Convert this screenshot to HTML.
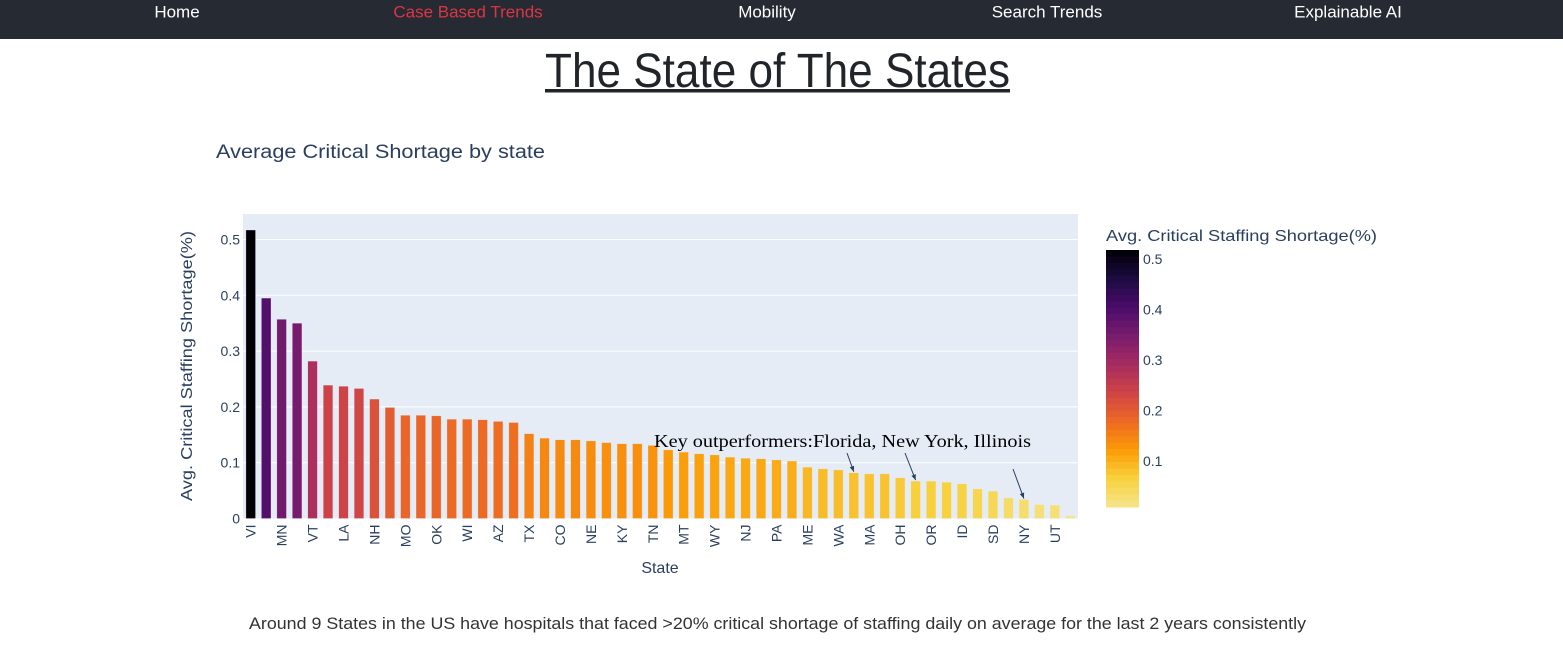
<!DOCTYPE html>
<html><head><meta charset="utf-8">
<style>
html,body{margin:0;padding:0;background:#fff;width:1563px;height:662px;overflow:hidden;font-family:"Liberation Sans",sans-serif}
svg text{font-family:"Liberation Sans",sans-serif}
</style></head>
<body>
<svg id="page" width="1563" height="662" xmlns="http://www.w3.org/2000/svg">
<rect x="0" y="0" width="1563" height="39" fill="#262a33"/>
<text x="177" y="13" fill="#fff" font-size="17" text-anchor="middle" dominant-baseline="middle">Home</text>
<text x="468" y="13" fill="#dc3545" font-size="17" text-anchor="middle" dominant-baseline="middle">Case Based Trends</text>
<text x="767" y="13" fill="#fff" font-size="17" text-anchor="middle" dominant-baseline="middle">Mobility</text>
<text x="1047" y="13" fill="#fff" font-size="17" text-anchor="middle" dominant-baseline="middle">Search Trends</text>
<text x="1348" y="13" fill="#fff" font-size="17" text-anchor="middle" dominant-baseline="middle">Explainable AI</text>
<text x="545" y="87" fill="#212529" font-size="48" textLength="465" lengthAdjust="spacingAndGlyphs">The State of The States</text>
<rect x="545" y="89" width="465" height="3.5" fill="#212529"/>
<text x="216" y="158" fill="#2a3f5f" font-size="19" textLength="329" lengthAdjust="spacingAndGlyphs">Average Critical Shortage by state</text>
<rect x="243" y="214" width="835" height="304.5" fill="#e5ecf6"/>
<g id="grid"></g>
<g id="bars"></g>
<g id="xticks"></g>
<g id="yticks"></g>
<text transform="translate(192,366) rotate(-90)" fill="#2a3f5f" font-size="16" text-anchor="middle" textLength="270" lengthAdjust="spacingAndGlyphs">Avg. Critical Staffing Shortage(%)</text>
<text x="660" y="573" fill="#2a3f5f" font-size="16" text-anchor="middle">State</text>
<text x="654" y="447" fill="#000" font-size="18" style="font-family:'Liberation Serif',serif" textLength="377" lengthAdjust="spacingAndGlyphs">Key outperformers:Florida, New York, Illinois</text>
<g id="arrows"></g>
<text x="1106" y="241" fill="#2a3f5f" font-size="16" textLength="271" lengthAdjust="spacingAndGlyphs">Avg. Critical Staffing Shortage(%)</text>
<g id="cbar"></g>
<text x="249" y="629" fill="#333" font-size="17" textLength="1057" lengthAdjust="spacingAndGlyphs">Around 9 States in the US have hospitals that faced &gt;20% critical shortage of staffing daily on average for the last 2 years consistently</text>
</svg>
<script>
const states = ["VI","PR","MN","NM","VT","DE","LA","RI","NH","KS","MO","MI","OK","GA","WI","AR","AZ","NC","TX","SC","CO","AL","NE","MS","KY","CA","TN","WV","MT","IN","WY","IA","NJ","ND","PA","CT","ME","DC","WA","FL","MA","NV","OH","IL","OR","VA","ID","MD","SD","AK","NY","HI","UT","GU"];
const values = [0.517,0.395,0.357,0.350,0.282,0.239,0.237,0.233,0.214,0.199,0.185,0.185,0.184,0.178,0.178,0.177,0.174,0.172,0.152,0.144,0.141,0.141,0.139,0.136,0.134,0.134,0.131,0.123,0.119,0.116,0.114,0.110,0.108,0.107,0.105,0.103,0.092,0.089,0.087,0.082,0.080,0.080,0.073,0.067,0.067,0.065,0.062,0.053,0.049,0.037,0.034,0.025,0.024,0.005];
const yTicks = [0,0.1,0.2,0.3,0.4,0.5];
const yTickLabels = ["0","0.1","0.2","0.3","0.4","0.5"];
const cbTicks = [0.1,0.2,0.3,0.4,0.5];
const arrowTargets = ["FL","IL","NY"];
const NS="http://www.w3.org/2000/svg";
const X0=243,X1=1078,Y0=518.5,YS=558;
const step=(X1-X0)/states.length;
const xc=i=>X0+step*(i+0.5);
const y=v=>Y0-v*YS;
const palette=['#000004','#1b0c41','#4a0c6b','#781c6d','#a52c60','#cf4446','#ed6925','#fb9b06','#f7d13d','#f6e48c'];
const vmin=0.009,vmax=0.518;
function hex(h){return [1,3,5].map(k=>parseInt(h.substr(k,2),16));}
function color(v){let t=(vmax-v)/(vmax-vmin);t=Math.max(0,Math.min(1,t));const p=t*(palette.length-1);const i=Math.min(Math.floor(p),palette.length-2);const f=p-i;const a=hex(palette[i]),b=hex(palette[i+1]);return 'rgb('+a.map((c,k)=>Math.round(c+(b[k]-c)*f)).join(',')+')';}
function mk(tag,attrs,parent){const e=document.createElementNS(NS,tag);for(const k in attrs)e.setAttribute(k,attrs[k]);document.getElementById(parent).appendChild(e);return e;}
yTicks.forEach((t,i)=>{
  if(t>0){const g=mk('line',{x1:X0,x2:X1,y1:y(t),y2:y(t),stroke:'#fff','stroke-width':1},'grid');
  
  }
  const l=mk('text',{x:X0-3,y:y(t)+5,'font-size':14,fill:'#2a3f5f','text-anchor':'end'},'yticks');
  l.textContent=yTickLabels[i];
  
  
});
states.forEach((s,i)=>{
  const w=step*0.62;
  const r=mk('rect',{x:xc(i)-w/2,y:y(values[i]),width:w,height:values[i]*YS,fill:color(values[i]),stroke:'rgba(229,236,246,0.6)','stroke-width':0.5},'bars');
  
  
  if(i%2===0){
    const t=mk('text',{transform:'translate('+(xc(i)+5)+','+(Y0+6)+') rotate(-90)','font-size':14,fill:'#2a3f5f','text-anchor':'end'},'xticks');
    t.textContent=s;
    
    
  }
});
const starts=[[847,453],[905,453],[1013,469]];
arrowTargets.forEach((s,k)=>{
  const i=states.indexOf(s);const tx=xc(i),ty=y(values[i])-1;const [sx,sy]=starts[k];
  const a=mk('line',{x1:sx,y1:sy,x2:tx,y2:ty,stroke:'#2a3f5f','stroke-width':1},'arrows');
  
  
  const ang=Math.atan2(ty-sy,tx-sx);const L=6;
  const p=[[tx,ty],[tx-L*Math.cos(ang-0.4),ty-L*Math.sin(ang-0.4)],[tx-L*Math.cos(ang+0.4),ty-L*Math.sin(ang+0.4)]];
  const h=mk('polygon',{points:p.map(q=>q.join(',')).join(' '),fill:'#2a3f5f'},'arrows');
  
  
});
const CB0=250,CB1=507,N=40;
for(let k=0;k<N;k++){
  const v=vmax-(vmax-vmin)*(k+0.5)/N;
  const r=mk('rect',{x:1106,y:CB0+(CB1-CB0)*k/N,width:33,height:(CB1-CB0)/N+0.5,fill:color(v)},'cbar');
  
  
}
cbTicks.forEach(t=>{
  const yy=CB1-(t-vmin)/(vmax-vmin)*(CB1-CB0);
  const l=mk('text',{x:1143,y:yy+5,'font-size':14,fill:'#2a3f5f'},'cbar');
  l.textContent=String(t);
  
  
});
</script>
</body></html>
